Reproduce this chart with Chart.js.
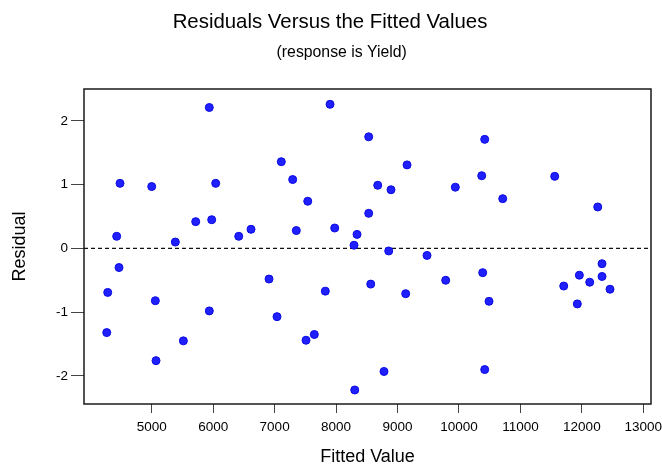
<!DOCTYPE html>
<html>
<head>
<meta charset="utf-8">
<title>Residuals Versus the Fitted Values</title>
<script src="https://cdn.jsdelivr.net/npm/chart.js@4.4.1/dist/chart.umd.min.js"></script>
<style>
    html, body { margin: 0; padding: 0; background: #fff; }
    #wrap { width: 662px; height: 469px; }
</style>
</head>
<body>
<div id="wrap"><canvas id="residChart" width="662" height="469"></canvas></div>
<script>
'use strict';

const fittedValues = [
    4268, 4284, 4430, 4468, 4484, 5000, 5059, 5070, 5384, 5515,
    5716, 5937, 5937, 5976, 6041, 6416, 6616, 6909, 7039, 7109,
    7294, 7353, 7511, 7539, 7646, 7825, 7902, 7978, 8292, 8304,
    8341, 8531, 8531, 8564, 8678, 8780, 8857, 8894, 9133, 9155,
    9480, 9784, 9941, 10370, 10386, 10419, 10419, 10489, 10712, 11558,
    11705, 11926, 11959, 12128, 12258, 12328, 12328, 12458
];
const residuals = [
    -1.32, -0.69, 0.19, -0.30, 1.02, 0.97, -0.82, -1.76, 0.10, -1.45,
    0.42, 2.21, -0.98, 0.45, 1.02, 0.19, 0.30, -0.48, -1.07, 1.36,
    1.08, 0.28, -1.44, 0.74, -1.35, -0.67, 2.26, 0.32, 0.05, -2.22,
    0.22, 1.75, 0.55, -0.56, 0.99, -1.93, -0.04, 0.92, -0.71, 1.31,
    -0.11, -0.50, 0.96, 1.14, -0.38, 1.71, -1.90, -0.83, 0.78, 1.13,
    -0.59, -0.87, -0.42, -0.53, 0.65, -0.24, -0.44, -0.64
];
const xTickValues = [5000, 6000, 7000, 8000, 9000, 10000, 11000, 12000, 13000];
const yTickValues = [-2, -1, 0, 1, 2];

const chartTitle = 'Residuals Versus the Fitted Values';
const chartSubtitle = '(response is Yield)';

const FONT = "'Liberation Sans', Arial, Helvetica, sans-serif";

// the two heading lines sit a little off centre in the original, so they are placed by hand
const headingPlugin = {
    id: 'heading',
    afterDraw(chart) {
        const { ctx } = chart;
        ctx.save();
        ctx.fillStyle = '#000';
        ctx.textAlign = 'center';
        ctx.textBaseline = 'alphabetic';
        ctx.font = '20.4px ' + FONT;
        ctx.fillText(chartTitle, 330, 27.8);
        ctx.font = '15.8px ' + FONT;
        ctx.fillText(chartSubtitle, 341.7, 56.6);
        ctx.restore();
    }
};

// box round the plot area + dashed reference line at residual 0
const framePlugin = {
    id: 'frame',
    beforeDatasetsDraw(chart) {
        const { ctx, chartArea, scales } = chart;
        const y0 = scales.y.getPixelForValue(0);
        ctx.save();
        ctx.strokeStyle = '#111';
        ctx.lineWidth = 1.3;
        ctx.setLineDash([4, 3]);
        ctx.beginPath();
        ctx.moveTo(chartArea.left, y0);
        ctx.lineTo(chartArea.right, y0);
        ctx.stroke();
        ctx.restore();
    },
    afterDraw(chart) {
        const { ctx, chartArea } = chart;
        ctx.save();
        ctx.strokeStyle = '#1a1a1a';
        ctx.lineWidth = 1.5;
        ctx.strokeRect(chartArea.left, chartArea.top,
            chartArea.right - chartArea.left, chartArea.bottom - chartArea.top);
        ctx.restore();
    }
};

const ctx = document.getElementById('residChart').getContext('2d');

new Chart(ctx, {
    type: 'scatter',
    data: {
        datasets: [{
            label: 'Residual',
            data: fittedValues.map((v, i) => ({ x: v, y: residuals[i] })),
            backgroundColor: '#2020ff',
            borderColor: '#0a0ae0',
            borderWidth: 1,
            pointRadius: 4,
            pointHoverRadius: 4
        }]
    },
    options: {
        responsive: false,
        animation: false,
        layout: { padding: { left: 0, right: 11, top: 89, bottom: 0 } },
        plugins: {
            legend: { display: false },
            tooltip: { enabled: false },
            title: { display: false },
            subtitle: { display: false }
        },
        scales: {
            x: {
                type: 'linear',
                min: 3898,
                max: 13125,
                afterBuildTicks: (scale) => { scale.ticks = xTickValues.map(v => ({ value: v })); },
                afterFit: (scale) => {
                    scale.height = 65;
                    scale.paddingLeft = 0;
                    scale.paddingRight = 0;
                },
                ticks: {
                    color: '#000',
                    font: { family: FONT, size: 13.5 },
                    padding: 6,
                    maxRotation: 0,
                    callback: (v) => String(v)
                },
                grid: { drawOnChartArea: false, drawTicks: true, tickLength: 9, color: '#444' },
                border: { display: false },
                title: {
                    display: true,
                    text: 'Fitted Value',
                    color: '#000',
                    font: { family: FONT, size: 18 },
                    padding: { top: 0, bottom: 1 }
                }
            },
            y: {
                type: 'linear',
                min: -2.44,
                max: 2.5,
                afterBuildTicks: (scale) => { scale.ticks = yTickValues.map(v => ({ value: v })); },
                afterFit: (scale) => {
                    scale.width = 84;
                    scale.paddingTop = 0;
                    scale.paddingBottom = 0;
                },
                ticks: {
                    color: '#000',
                    font: { family: FONT, size: 13.5 },
                    padding: 3,
                    callback: (v) => String(v)
                },
                grid: { drawOnChartArea: false, drawTicks: true, tickLength: 13, color: '#444' },
                border: { display: false },
                title: {
                    display: true,
                    text: 'Residual',
                    color: '#000',
                    font: { family: FONT, size: 18 },
                    padding: { top: 9, bottom: 0 }
                }
            }
        }
    },
    plugins: [framePlugin, headingPlugin]
});
</script>
</body>
</html>
